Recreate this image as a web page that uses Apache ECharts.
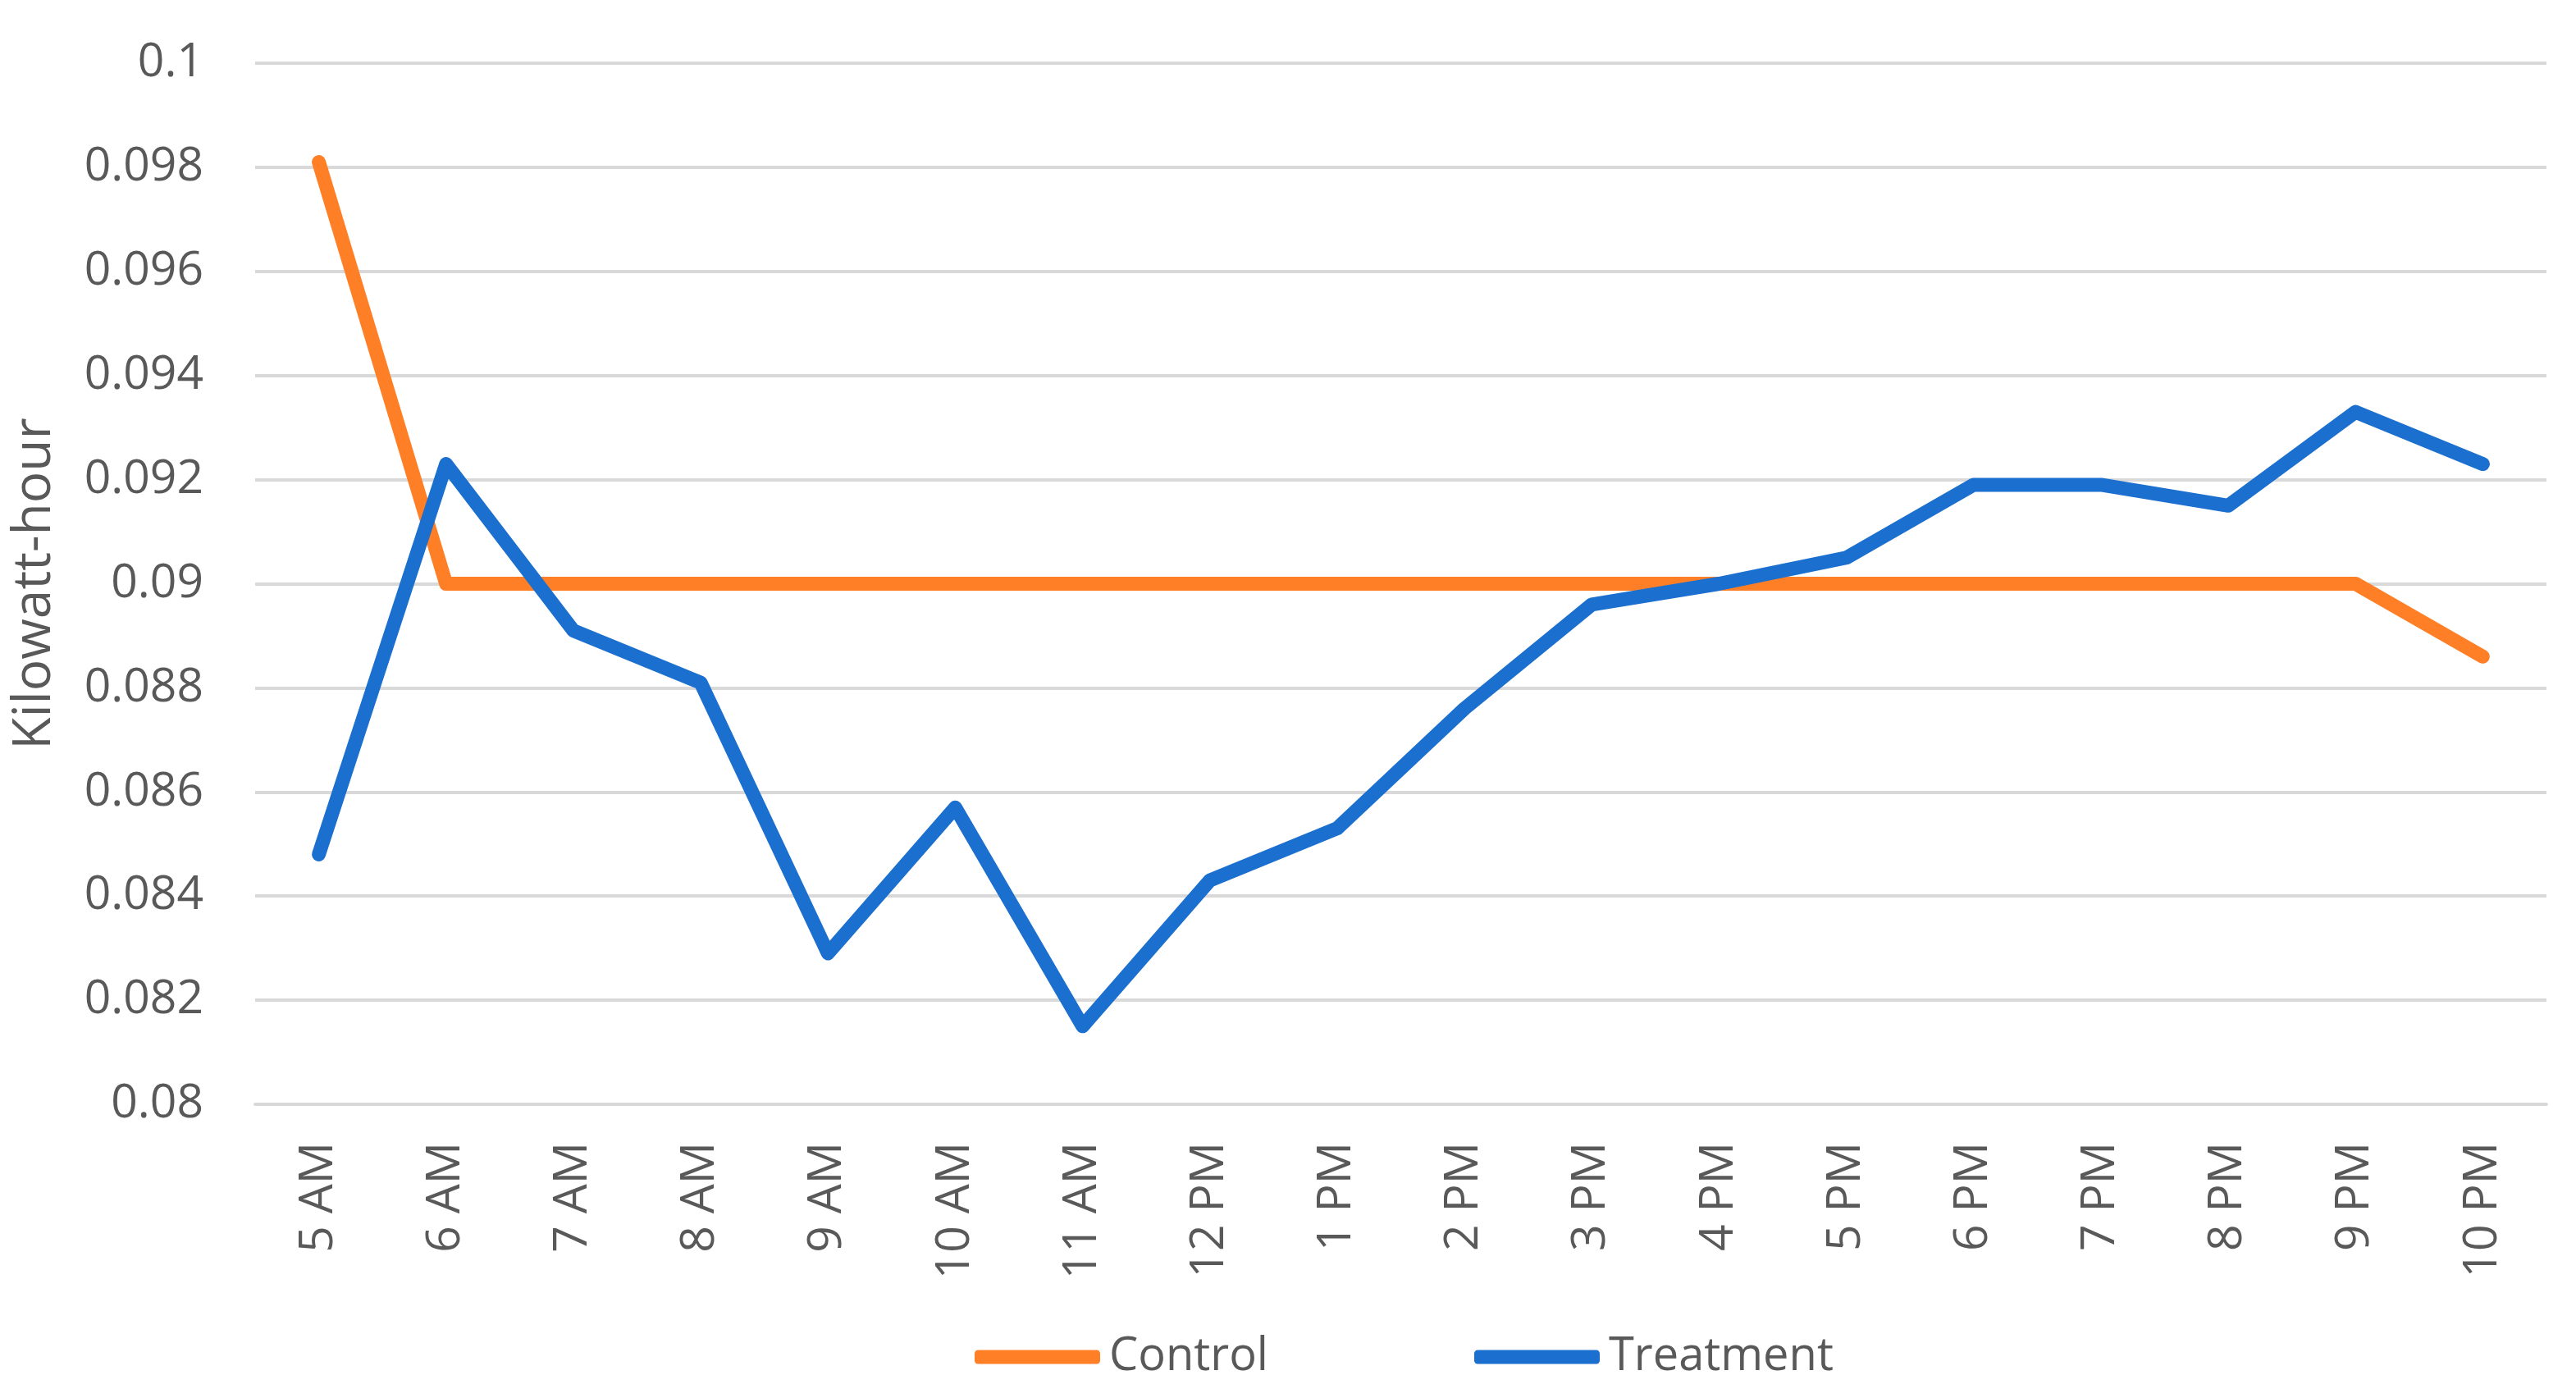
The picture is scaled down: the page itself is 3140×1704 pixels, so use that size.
<!DOCTYPE html>
<html>
<head>
<meta charset="utf-8">
<script src="https://cdn.jsdelivr.net/npm/echarts@6/dist/echarts.min.js"></script>
<style>
html,body{margin:0;padding:0;background:#fff;}
#chart{width:3140px;height:1704px;}
</style>
</head>
<body>
<div id="chart"></div>
<script>
const categories = ['5 AM','6 AM','7 AM','8 AM','9 AM','10 AM','11 AM','12 PM','1 PM','2 PM','3 PM','4 PM','5 PM','6 PM','7 PM','8 PM','9 PM','10 PM'];
const controlValues = [0.0981,0.0900,0.0900,0.0900,0.0900,0.0900,0.0900,0.0900,0.0900,0.0900,0.0900,0.0900,0.0900,0.0900,0.0900,0.0900,0.0900,0.0886];
const treatmentValues = [0.0848,0.0923,0.0891,0.0881,0.0829,0.0857,0.0815,0.0843,0.0853,0.0876,0.0896,0.0900,0.0905,0.0919,0.0919,0.0915,0.0933,0.0923];
const yMin = 0.08, yMax = 0.1, yInterval = 0.002;
const seriesNames = ['Control','Treatment'];

const FONT = '"Open Sans", sans-serif';
const TXT = '#595959';
const chart = echarts.init(document.getElementById('chart'), null, {renderer:'canvas'});
chart.setOption({
  animation:false,
  backgroundColor:'#ffffff',
  color:['#FF7F27','#1B6FCE'],
  grid:{left:311,right:36,top:77,bottom:358,containLabel:false},
  legend:[
    {data:[seriesNames[0]],left:1183,top:1651-30,itemWidth:153,itemHeight:17,icon:'roundRect',
     textStyle:{fontFamily:FONT,fontSize:56,color:TXT,padding:[0,0,0,6]}},
    {data:[seriesNames[1]],left:1792,top:1651-30,itemWidth:153,itemHeight:17,icon:'roundRect',
     textStyle:{fontFamily:FONT,fontSize:56,color:TXT,padding:[0,0,0,6]}}
  ],
  xAxis:{
    type:'category',data:categories,boundaryGap:true,
    axisLine:{show:true,lineStyle:{color:'#d9d9d9',width:4}},
    axisTick:{show:false},
    axisLabel:{rotate:90,margin:46,fontFamily:FONT,fontSize:57,color:TXT,interval:0}
  },
  yAxis:{
    type:'value',min:yMin,max:yMax,interval:yInterval,
    name:'Kilowatt-hour',nameLocation:'middle',nameRotate:90,nameGap:236,
    nameTextStyle:{fontFamily:FONT,fontSize:64,color:TXT},
    axisLine:{show:false},axisTick:{show:false},
    axisLabel:{margin:63,fontFamily:FONT,fontSize:57,color:TXT},
    splitLine:{show:true,lineStyle:{color:'#d9d9d9',width:4}}
  },
  series:[
    {name:seriesNames[0],type:'line',data:controlValues,symbol:'none',
     lineStyle:{width:17,cap:'round',join:'round'}},
    {name:seriesNames[1],type:'line',data:treatmentValues,symbol:'none',
     lineStyle:{width:17,cap:'round',join:'round'}}
  ]
});
</script>
</body>
</html>
